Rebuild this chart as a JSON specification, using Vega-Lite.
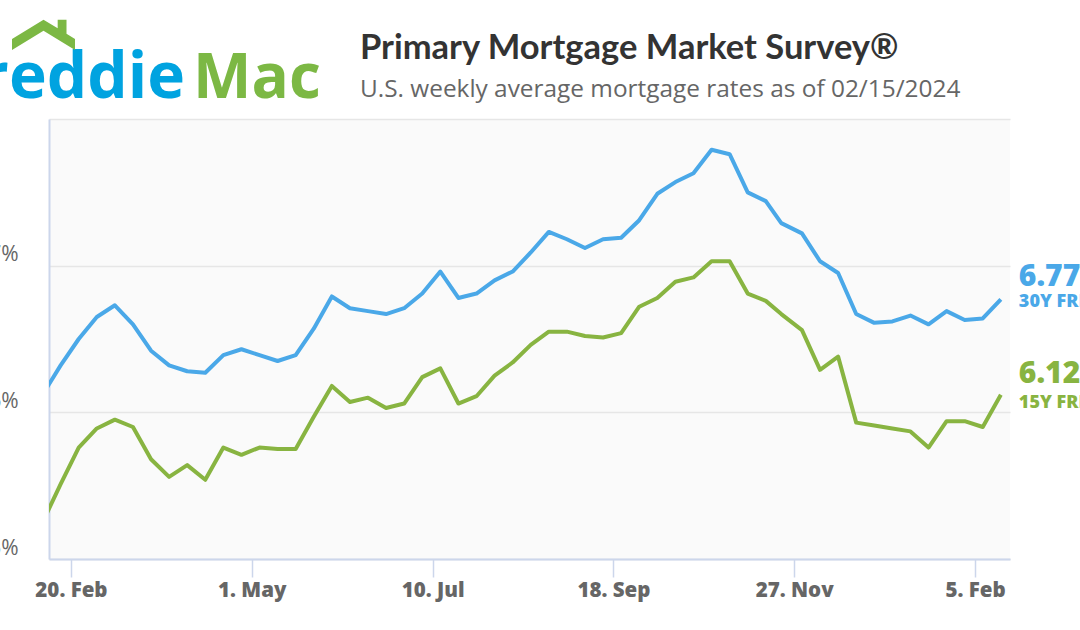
{
  "$schema": "https://vega.github.io/schema/vega-lite/v6.json",
  "width": 961,
  "height": 440,
  "autosize": {"type": "none"},
  "padding": {"left": 49, "top": 119, "right": 70, "bottom": 71},
  "background": "white",
  "view": {"fill": "#fafafa", "stroke": null},
  "title": {
    "text": "Primary Mortgage Market Survey®",
    "subtitle": "U.S. weekly average mortgage rates as of 02/15/2024",
    "anchor": "start",
    "frame": "group",
    "dx": 311,
    "offset": -83,
    "font": "Lato",
    "fontSize": 34.5,
    "fontWeight": "bold",
    "color": "#333333",
    "subtitleFont": "Open Sans",
    "subtitleFontSize": 24.4,
    "subtitleColor": "#666666",
    "subtitlePadding": 12
  },
  "datasets": {
    "rates": [
      {"date": "2023-02-09", "frm30": 6.12, "frm15": 5.25},
      {"date": "2023-02-16", "frm30": 6.32, "frm15": 5.51},
      {"date": "2023-02-23", "frm30": 6.50, "frm15": 5.76},
      {"date": "2023-03-02", "frm30": 6.65, "frm15": 5.89},
      {"date": "2023-03-09", "frm30": 6.73, "frm15": 5.95},
      {"date": "2023-03-16", "frm30": 6.60, "frm15": 5.90},
      {"date": "2023-03-23", "frm30": 6.42, "frm15": 5.68},
      {"date": "2023-03-30", "frm30": 6.32, "frm15": 5.56},
      {"date": "2023-04-06", "frm30": 6.28, "frm15": 5.64},
      {"date": "2023-04-13", "frm30": 6.27, "frm15": 5.54},
      {"date": "2023-04-20", "frm30": 6.39, "frm15": 5.76},
      {"date": "2023-04-27", "frm30": 6.43, "frm15": 5.71},
      {"date": "2023-05-04", "frm30": 6.39, "frm15": 5.76},
      {"date": "2023-05-11", "frm30": 6.35, "frm15": 5.75},
      {"date": "2023-05-18", "frm30": 6.39, "frm15": 5.75},
      {"date": "2023-05-25", "frm30": 6.57, "frm15": 5.97},
      {"date": "2023-06-01", "frm30": 6.79, "frm15": 6.18},
      {"date": "2023-06-08", "frm30": 6.71, "frm15": 6.07},
      {"date": "2023-06-15", "frm30": 6.69, "frm15": 6.10},
      {"date": "2023-06-22", "frm30": 6.67, "frm15": 6.03},
      {"date": "2023-06-29", "frm30": 6.71, "frm15": 6.06},
      {"date": "2023-07-06", "frm30": 6.81, "frm15": 6.24},
      {"date": "2023-07-13", "frm30": 6.96, "frm15": 6.30},
      {"date": "2023-07-20", "frm30": 6.78, "frm15": 6.06},
      {"date": "2023-07-27", "frm30": 6.81, "frm15": 6.11},
      {"date": "2023-08-03", "frm30": 6.90, "frm15": 6.25},
      {"date": "2023-08-10", "frm30": 6.96, "frm15": 6.34},
      {"date": "2023-08-17", "frm30": 7.09, "frm15": 6.46},
      {"date": "2023-08-24", "frm30": 7.23, "frm15": 6.55},
      {"date": "2023-08-31", "frm30": 7.18, "frm15": 6.55},
      {"date": "2023-09-07", "frm30": 7.12, "frm15": 6.52},
      {"date": "2023-09-14", "frm30": 7.18, "frm15": 6.51},
      {"date": "2023-09-21", "frm30": 7.19, "frm15": 6.54},
      {"date": "2023-09-28", "frm30": 7.31, "frm15": 6.72},
      {"date": "2023-10-05", "frm30": 7.49, "frm15": 6.78},
      {"date": "2023-10-12", "frm30": 7.57, "frm15": 6.89},
      {"date": "2023-10-19", "frm30": 7.63, "frm15": 6.92},
      {"date": "2023-10-26", "frm30": 7.79, "frm15": 7.03},
      {"date": "2023-11-02", "frm30": 7.76, "frm15": 7.03},
      {"date": "2023-11-09", "frm30": 7.50, "frm15": 6.81},
      {"date": "2023-11-16", "frm30": 7.44, "frm15": 6.76},
      {"date": "2023-11-22", "frm30": 7.29, "frm15": 6.67},
      {"date": "2023-11-30", "frm30": 7.22, "frm15": 6.56},
      {"date": "2023-12-07", "frm30": 7.03, "frm15": 6.29},
      {"date": "2023-12-14", "frm30": 6.95, "frm15": 6.38},
      {"date": "2023-12-21", "frm30": 6.67, "frm15": 5.93},
      {"date": "2023-12-28", "frm30": 6.61, "frm15": 5.91},
      {"date": "2024-01-04", "frm30": 6.62, "frm15": 5.89},
      {"date": "2024-01-11", "frm30": 6.66, "frm15": 5.87},
      {"date": "2024-01-18", "frm30": 6.60, "frm15": 5.76},
      {"date": "2024-01-25", "frm30": 6.69, "frm15": 5.94},
      {"date": "2024-02-01", "frm30": 6.63, "frm15": 5.94},
      {"date": "2024-02-08", "frm30": 6.64, "frm15": 5.90},
      {"date": "2024-02-15", "frm30": 6.77, "frm15": 6.12}
    ],
    "logo": [{"word": "Freddie"}]
  },
  "data": {"name": "rates"},
  "layer": [
    {
      "mark": {"type": "line", "color": "#4aa8e8", "strokeWidth": 4, "clip": true, "strokeJoin": "round"},
      "encoding": {
        "x": {
          "field": "date", "type": "temporal",
          "scale": {"type": "utc", "domain": [
            {"year": 2023, "month": 2, "date": 11, "hours": 12, "utc": true},
            {"year": 2024, "month": 2, "date": 18, "hours": 13, "utc": true}
          ]},
          "axis": {
            "title": null,
            "values": [
              {"year": 2023, "month": 2, "date": 20, "utc": true},
              {"year": 2023, "month": 5, "date": 1, "utc": true},
              {"year": 2023, "month": 7, "date": 10, "utc": true},
              {"year": 2023, "month": 9, "date": 18, "utc": true},
              {"year": 2023, "month": 11, "date": 27, "utc": true},
              {"year": 2024, "month": 2, "date": 5, "utc": true}
            ],
            "format": "%-d. %b",
            "grid": false,
            "domainColor": "#ccd6eb", "domainWidth": 2,
            "tickColor": "#ccd6eb", "tickWidth": 1.5, "tickSize": 18,
            "labelFont": "Open Sans", "labelFontSize": 20.5, "labelFontWeight": 800,
            "labelColor": "#666666", "labelPadding": 3
          }
        },
        "y": {
          "field": "frm30", "type": "quantitative",
          "scale": {"domain": [5, 8], "zero": false, "nice": false},
          "axis": {
            "title": null,
            "values": [5, 6, 7, 8],
            "labelExpr": "datum.value == 8 ? '' : datum.value + '%'",
            "grid": true, "gridColor": "#e6e6e6", "gridWidth": 1.5,
            "domainColor": "#ccd6eb", "domainWidth": 2,
            "ticks": false,
            "labelPadding": 31, "labelOffset": -11,
            "labelFont": "Open Sans", "labelFontSize": 21, "labelColor": "#666666"
          }
        }
      }
    },
    {
      "mark": {"type": "line", "color": "#88b441", "strokeWidth": 4, "clip": true, "strokeJoin": "round"},
      "encoding": {
        "x": {"field": "date", "type": "temporal"},
        "y": {"field": "frm15", "type": "quantitative"}
      }
    },
    {
      "transform": [{"filter": "utcyear(datum.date) == 2024 && utcmonth(datum.date) == 1 && utcdate(datum.date) == 15"}],
      "layer": [
        {
          "mark": {"type": "text", "align": "left", "baseline": "alphabetic", "dx": 18, "dy": -13, "font": "Open Sans", "fontSize": 30, "fontWeight": 800, "color": "#4aa8e8"},
          "encoding": {
            "x": {"field": "date", "type": "temporal"},
            "y": {"field": "frm30", "type": "quantitative"},
            "text": {"field": "frm30", "type": "quantitative", "format": ".2f"}
          }
        },
        {
          "mark": {"type": "text", "align": "left", "baseline": "alphabetic", "dx": 18, "dy": 8, "font": "Open Sans", "fontSize": 18, "fontWeight": 800, "color": "#4aa8e8", "text": "30Y FRM"},
          "encoding": {
            "x": {"field": "date", "type": "temporal"},
            "y": {"field": "frm30", "type": "quantitative"}
          }
        },
        {
          "mark": {"type": "text", "align": "left", "baseline": "alphabetic", "dx": 18, "dy": -12, "font": "Open Sans", "fontSize": 30, "fontWeight": 800, "color": "#88b441"},
          "encoding": {
            "x": {"field": "date", "type": "temporal"},
            "y": {"field": "frm15", "type": "quantitative"},
            "text": {"field": "frm15", "type": "quantitative", "format": ".2f"}
          }
        },
        {
          "mark": {"type": "text", "align": "left", "baseline": "alphabetic", "dx": 18, "dy": 13, "font": "Open Sans", "fontSize": 18, "fontWeight": 800, "color": "#88b441", "text": "15Y FRM"},
          "encoding": {
            "x": {"field": "date", "type": "temporal"},
            "y": {"field": "frm15", "type": "quantitative"}
          }
        }
      ]
    },
    {
      "data": {"name": "logo"},
      "layer": [
        {
          "mark": {"type": "text", "align": "right", "baseline": "alphabetic", "font": "Open Sans", "fontSize": 64, "fontWeight": 700, "color": "#00a3e0", "clip": false},
          "encoding": {
            "x": {"datum": {"year": 2023, "month": 4, "date": 5, "hours": 4, "utc": true}, "type": "temporal"},
            "y": {"datum": 8.143, "type": "quantitative"},
            "text": {"field": "word"}
          }
        },
        {
          "mark": {"type": "text", "align": "left", "baseline": "alphabetic", "font": "Open Sans", "fontSize": 62, "fontWeight": 700, "color": "#7cb844", "text": "Mac", "clip": false},
          "encoding": {
            "x": {"datum": {"year": 2023, "month": 4, "date": 8, "hours": 6, "utc": true}, "type": "temporal"},
            "y": {"datum": 8.143, "type": "quantitative"}
          }
        },
        {
          "mark": {"type": "point", "filled": true, "opacity": 1, "color": "#7cb844", "size": 3969, "clip": false,
            "shape": "M -1 0.13 L 0 -0.48 L 0.45 -0.21 L 0.45 -0.48 L 0.73 -0.48 L 0.73 -0.04 L 1 0.13 L 1 0.48 L 0 -0.13 L -1 0.48 Z"},
          "encoding": {
            "x": {"datum": {"year": 2023, "month": 2, "date": 9, "hours": 9, "utc": true}, "type": "temporal"},
            "y": {"datum": 8.573, "type": "quantitative"}
          }
        }
      ]
    }
  ]
}
